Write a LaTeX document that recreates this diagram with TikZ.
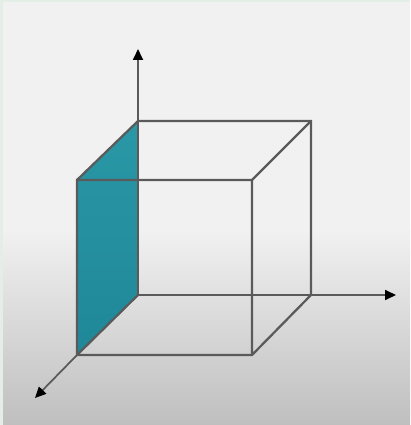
\documentclass[tikz,border=0pt]{standalone}
\usetikzlibrary{arrows.meta}
\definecolor{wallteal}{HTML}{2A98A6}
\definecolor{walldark}{HTML}{1F8798}
\definecolor{edgegray}{HTML}{5A5A5A}
\definecolor{panelgray}{HTML}{F1F1F1}
\definecolor{floorgray}{HTML}{BFBFBF}
\definecolor{stripgreen}{HTML}{E3EFE6}
\tikzset{
    edge/.style={draw=edgegray, line width=0.045cm},
    axis/.style={draw=edgegray, line width=0.035cm, -{Triangle[length=0.22cm, width=0.2cm, black]}},
}
\begin{document}
\begin{tikzpicture}[x=0.02cm, y=-0.02cm]
    \useasboundingbox (0, 0) rectangle (410, 425);
    % backdrop
    \fill[stripgreen] (0, 0) rectangle (410, 425);
    \fill[panelgray] (3, 2) rectangle (410, 232);
    \fill[top color=panelgray, bottom color=floorgray] (3, 230) rectangle (410, 425);

    % back face
    \coordinate (bbl) at (138, 295);
    \coordinate (btl) at (138, 121);
    \coordinate (btr) at (311, 121);
    \coordinate (bbr) at (311, 295);
    % front face
    \coordinate (fbl) at (77, 355);
    \coordinate (ftl) at (77, 180);
    \coordinate (ftr) at (252, 180);
    \coordinate (fbr) at (252, 355);
    % axis ends
    \coordinate (zend) at (138, 49);
    \coordinate (yend) at (396, 295);
    \coordinate (xend) at (35, 398);

    \fill[top color=wallteal, bottom color=walldark] (ftl) -- (btl) -- (bbl) -- (fbl) -- cycle;

    \draw[axis] (btl) -- (zend);
    \draw[axis] (bbr) -- (yend);
    \draw[axis] (fbl) -- (xend);

    \draw[edge] (bbl) -- (bbr);
    \draw[edge] (bbl) -- (btl);
    \draw[edge] (bbl) -- (fbl);
    \draw[edge] (btl) -- (btr) -- (bbr) -- (fbr) -- (fbl) -- (ftl) -- (ftr) -- (fbr);
    \draw[edge] (ftl) -- (btl);
    \draw[edge] (ftr) -- (btr);
\end{tikzpicture}
\end{document}
